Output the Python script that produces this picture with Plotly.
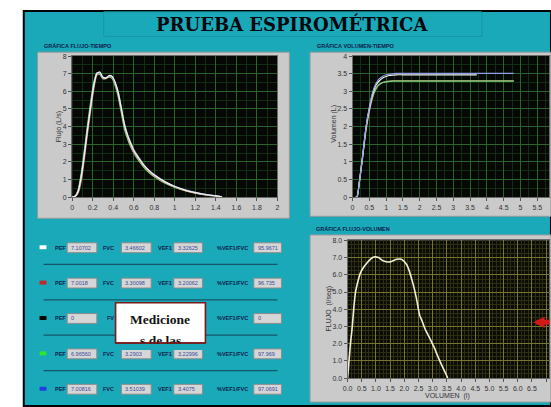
import plotly.graph_objects as go

W, H = 551, 407

# ---------------- data ----------------
# Flow-time curves (time s, flow L/s)
t_flow = [0, 0.03, 0.06, 0.09, 0.12, 0.15, 0.18, 0.21, 0.24, 0.27, 0.30, 0.33, 0.36, 0.39,
          0.42, 0.45, 0.48, 0.51, 0.54, 0.57, 0.60, 0.65, 0.70, 0.75, 0.80, 0.90, 1.00,
          1.10, 1.20, 1.30, 1.40, 1.46]
flow_white = [0, 0.05, 0.35, 1.2, 2.45, 3.85, 5.1, 6.3, 7.0, 7.1, 6.8, 6.75, 6.9, 6.85,
              6.5, 5.9, 5.0, 4.1, 3.5, 3.05, 2.65, 2.2, 1.8, 1.5, 1.25, 0.88, 0.6,
              0.4, 0.26, 0.15, 0.07, 0.02]
flow_red = [0, 0.03, 0.25, 0.95, 2.2, 3.6, 4.9, 6.1, 6.9, 7.0, 6.75, 6.72, 6.85, 6.8,
            6.4, 5.8, 4.9, 4.0, 3.4, 2.95, 2.55, 2.15, 1.75, 1.45, 1.2, 0.85, 0.57,
            0.37, 0.23, 0.13, 0.06, 0.01]
flow_green = [0, 0.06, 0.45, 1.4, 2.7, 4.1, 5.4, 6.5, 7.0, 6.95, 6.7, 6.75, 6.8, 6.72,
              6.3, 5.65, 4.75, 3.85, 3.3, 2.85, 2.5, 2.05, 1.68, 1.38, 1.15, 0.8, 0.55,
              0.36, 0.22, 0.13, 0.06, 0.02]
flow_blue = [0, 0.05, 0.38, 1.25, 2.5, 3.9, 5.2, 6.35, 7.05, 7.02, 6.8, 6.78, 6.88, 6.82,
             6.45, 5.95, 5.05, 4.15, 3.55, 3.1, 2.7, 2.25, 1.82, 1.52, 1.28, 0.9, 0.62,
             0.42, 0.27, 0.16, 0.08, 0.02]

# Volume-time curves (time s, volume L)
t_vol_white = [0.1, 0.14, 0.2, 0.3, 0.4, 0.5, 0.6, 0.7, 0.8, 0.9, 1.0, 1.1, 1.2, 1.3, 1.5, 2.0, 3.0, 3.7]
vol_white = [0, 0.02, 0.4, 1.15, 1.95, 2.5, 2.93, 3.18, 3.3, 3.38, 3.42, 3.45, 3.46, 3.47, 3.47, 3.47, 3.47, 3.47]
t_vol_red = [0.1, 0.14, 0.2, 0.3, 0.4, 0.5, 0.6, 0.7, 0.8, 0.9, 1.0, 1.1, 1.2, 1.3, 1.5, 2.0, 3.0, 4.0, 4.8]
vol_red = [0, 0.02, 0.38, 1.1, 1.88, 2.42, 2.83, 3.07, 3.19, 3.25, 3.28, 3.29, 3.3, 3.3, 3.3, 3.3, 3.3, 3.3, 3.3]
t_vol_green = [0.1, 0.14, 0.2, 0.3, 0.4, 0.5, 0.6, 0.7, 0.8, 0.9, 1.0, 1.1, 1.2, 1.3, 1.5, 2.0, 3.0, 4.0, 4.8]
vol_green = [0, 0.03, 0.42, 1.18, 1.96, 2.5, 2.88, 3.1, 3.2, 3.25, 3.27, 3.28, 3.29, 3.29, 3.29, 3.29, 3.29, 3.29, 3.29]
t_vol_blue = [0.1, 0.14, 0.2, 0.3, 0.4, 0.5, 0.6, 0.7, 0.8, 0.9, 1.0, 1.1, 1.2, 1.3, 1.5, 2.0, 3.0, 4.0, 4.8]
vol_blue = [0, 0.02, 0.4, 1.15, 1.97, 2.55, 2.98, 3.23, 3.36, 3.43, 3.47, 3.49, 3.5, 3.51, 3.51, 3.51, 3.51, 3.51, 3.51]

# Flow-volume curve (volume L, flow L/s)
vol_fv = [0.0, 0.05, 0.1, 0.16, 0.22, 0.28, 0.36, 0.45, 0.57, 0.69, 0.8, 0.92, 1.09, 1.27,
          1.5, 1.73, 1.9, 2.08, 2.18, 2.26, 2.35, 2.43, 2.54, 2.63, 2.72, 2.84, 2.95, 3.05,
          3.13, 3.25, 3.36, 3.45, 3.53]
flow_fv = [0.0, 1.0, 2.0, 2.9, 4.1, 5.0, 5.6, 6.1, 6.45, 6.7, 6.9, 7.03, 7.0, 6.8,
           6.75, 6.9, 6.9, 6.6, 6.2, 5.75, 5.2, 4.6, 3.66, 3.3, 2.9, 2.5, 2.14, 1.8,
           1.47, 1.0, 0.61, 0.3, 0.0]

# Measurement table
row_colors = ["#ffffff", "#c0282c", "#000000", "#2ee82e", "#1f3fe0"]
pef_vals = ["7.10702", "7.0018", "0", "6.96560", "7.00816"]
fvc_vals = ["3.46602", "3.30098", "", "3.2903", "3.51039"]
vef1_vals = ["3.32625", "3.20062", "", "3.22996", "3.4075"]
ratio_vals = ["95.9671", "96.735", "0", "97.969", "97.0691"]

series_colors = {"white": "#f4f4f0", "red": "#d88a7a", "green": "#78d878", "blue": "#90a0e8"}

# ---------------- helpers ----------------
def px(x):
    return x / W

def py(y):
    return 1 - y / H

TEAL = "#1aa9b8"
GRAY = "#cacaca"
NAVY = "#0e1c4e"
BOXRED = "#7a1a1a"

fig = go.Figure()

for name, ys in [("green", flow_green), ("red", flow_red), ("blue", flow_blue), ("white", flow_white)]:
    fig.add_trace(go.Scatter(x=t_flow, y=ys, mode="lines", xaxis="x", yaxis="y",
                             line=dict(color=series_colors[name], width=1.2, shape="spline", smoothing=0.6),
                             showlegend=False, hoverinfo="skip"))

for name, xs, ys in [("red", t_vol_red, vol_red), ("green", t_vol_green, vol_green),
                     ("white", t_vol_white, vol_white), ("blue", t_vol_blue, vol_blue)]:
    fig.add_trace(go.Scatter(x=xs, y=ys, mode="lines", xaxis="x2", yaxis="y2",
                             line=dict(color=series_colors[name], width=1.2, shape="spline", smoothing=0.6),
                             showlegend=False, hoverinfo="skip"))

fig.add_trace(go.Scatter(x=vol_fv, y=flow_fv, mode="lines", xaxis="x3", yaxis="y3",
                         line=dict(color="#f2efd2", width=1.6, shape="spline", smoothing=0.6),
                         showlegend=False, hoverinfo="skip"))

tickfont = dict(family="Liberation Sans", size=7, color="#333333")

def ax(domain, rng, dtick, grid, minor_grid, minor_dtick, anchor, fmt=None):
    d = dict(domain=domain, range=rng, dtick=dtick, tick0=0, showgrid=True, gridcolor=grid, gridwidth=1,
             zeroline=False, showline=True, linecolor="#6a6a6a", mirror=True, ticks="outside",
             ticklen=3, tickcolor="#555555", tickfont=tickfont, anchor=anchor, fixedrange=True,
             minor=dict(showgrid=True, gridcolor=minor_grid, dtick=minor_dtick, tick0=0))
    if fmt:
        d["tickformat"] = fmt
    return d

y_top = [py(196.5), py(53)]
fig.update_layout(
    width=W, height=H, margin=dict(l=0, r=0, t=0, b=0),
    paper_bgcolor="#ffffff",
    showlegend=False,
    xaxis=ax([px(68), px(276)], [0, 2], 0.2, "#2a642a", "#122e12", 0.1, "y"),
    yaxis=ax(y_top, [0, 8], 1, "#2a642a", "#122e12", 0.5, "x"),
    xaxis2=ax([px(352), 1], [0, 5.85], 0.5, "#2a642a", "#122e12", 0.25, "y2"),
    yaxis2=ax(y_top, [0, 4], 0.5, "#2a642a", "#122e12", 0.25, "x2"),
    xaxis3=ax([px(347), 1], [0, 7.1], 0.5, "#77762e", "#2e2e12", 0.125, "y3", ".1f"),
    yaxis3=ax([py(380.7), py(240.5)], [0, 8], 1, "#77762e", "#2e2e12", 0.25, "x3", ".1f"),
)
fig.update_layout(plot_bgcolor="#050805")

shapes = []
def rect(x0, y0, x1, y1, fill, line=None, lw=0, layer="below"):
    shapes.append(dict(type="rect", xref="paper", yref="paper", x0=px(x0), x1=px(x1), y0=py(y1), y1=py(y0),
                       fillcolor=fill, line=dict(color=line or fill, width=lw), layer=layer))

def hline(x0, x1, y, color, lw=1):
    shapes.append(dict(type="line", xref="paper", yref="paper", x0=px(x0), x1=px(x1), y0=py(y), y1=py(y),
                       line=dict(color=color, width=lw), layer="below"))

# main teal panel with black frame
rect(19, 7, 553, 409, TEAL, "#000000", 2)
# title box
rect(100, 8, 483, 33, TEAL, "#1796a4", 1)
# gray plot panels
rect(33, 49, 288, 218, GRAY, "#9a9a9a", 1)
rect(309, 49, 553, 216, GRAY, "#9a9a9a", 1)
rect(309, 235, 553, 405, GRAY, "#9a9a9a", 1)
# plot backgrounds (per plot)
rect(68, 53, 276, 196.5, "#050805")
rect(352, 53, 551, 196.5, "#050805")
rect(347, 240.5, 551, 380.7, "#0b0c06")

# table rows
row_y = [248, 284, 320, 356, 392]
for yy in [265, 301, 337, 373]:
    hline(39, 276, yy, "#14566a", 1.2)
for i, yy in enumerate(row_y):
    rect(35, yy - 2.5, 42, yy + 1.5, row_colors[i])
    boxes = [(63, 93, pef_vals[i])]
    if fvc_vals[i]:
        boxes.append((118, 148, fvc_vals[i]))
    if vef1_vals[i]:
        boxes.append((171, 200, vef1_vals[i]))
    boxes.append((252, 280, ratio_vals[i]))
    for (bx0, bx1, _) in boxes:
        rect(bx0, yy - 5, bx1, yy + 5, "#d6d6d6", "#8e8e8e", 1)

# "Mediciones" overlay box
rect(112, 304, 203, 345, "#ffffff", BOXRED, 1.6)

fig.update_layout(shapes=shapes)

ann = []
def text(x, y, s, size=6, color=NAVY, family="Liberation Sans", bold=True, xanchor="center", angle=0):
    ann.append(dict(xref="paper", yref="paper", x=px(x), y=py(y), text=(f"<b>{s}</b>" if bold else s),
                    showarrow=False, xanchor=xanchor, yanchor="middle", textangle=angle,
                    font=dict(size=size, color=color, family=family)))

text(291, 20, "PRUEBA ESPIROMÉTRICA", size=18, color="#05070d", family="DejaVu Serif")
text(37, 43, "GRÁFICA FLUJO-TIEMPO", size=5.5, xanchor="left")
text(314, 43, "GRÁFICA VOLUMEN-TIEMPO", size=5.5, xanchor="left")
text(313, 229, "GRÁFICA FLUJO-VOLUMEN", size=5.5, xanchor="left")

text(55, 125, "Flujo (L/s)", size=7, color="#333333", bold=False, angle=-90)
text(333, 122, "Volumen (L)", size=7, color="#333333", bold=False, angle=-90)
text(328, 310, "FLUJO  (l/seg)", size=7, color="#333333", bold=False, angle=-90)
text(448, 399, "VOLUMEN  (l)", size=7, color="#333333", bold=False)

for i, yy in enumerate(row_y):
    text(56, yy, "PEF", size=5.5)
    text(65, yy, pef_vals[i], size=5.5, color="#3a4a9a", bold=False, xanchor="left")
    if fvc_vals[i]:
        text(105, yy, "FVC", size=5.5)
        text(120, yy, fvc_vals[i], size=5.5, color="#3a4a9a", bold=False, xanchor="left")
    else:
        text(101, yy, "FV", size=5.5, xanchor="left")
    if vef1_vals[i]:
        text(162, yy, "VEF1", size=5.5)
        text(173, yy, vef1_vals[i], size=5.5, color="#3a4a9a", bold=False, xanchor="left")
    text(230, yy, "%VEF1/FVC", size=5.5)
    text(254, yy, ratio_vals[i], size=5.5, color="#3a4a9a", bold=False, xanchor="left")

# text inside the overlay box (second line cut by the box bottom)
ann.append(dict(xref="paper", yref="paper", x=px(157.5), y=py(321), xanchor="center", yanchor="middle",
                text="<b>Medicione</b>", showarrow=False,
                font=dict(family="Liberation Serif", size=13.5, color="#111111")))
ann.append(dict(xref="paper", yref="paper", x=px(157.5), y=py(342.5), xanchor="center", yanchor="middle",
                text="<b>s de las</b>", showarrow=False,
                font=dict(family="Liberation Serif", size=13.5, color="#111111")))
# teal mask below the box to cut the second line
ann.append(dict(xref="paper", yref="paper", x=px(157.5), y=py(345.6), xanchor="center", yanchor="top",
                text=" ", showarrow=False, width=95, height=6, borderpad=0, borderwidth=0,
                bgcolor=TEAL, font=dict(size=4)))
# box bottom border redrawn on top
ann.append(dict(xref="paper", yref="paper", axref="pixel", ayref="pixel",
                x=px(112.2), y=py(345), ax=90.6, ay=0, showarrow=True,
                arrowhead=0, arrowwidth=1.6, arrowcolor=BOXRED, standoff=0, startstandoff=0, text=""))

# red arrow at right of flow-volume plot
ann.append(dict(xref="x3", yref="y3", x=6.55, y=3.24, ax=40, ay=0, showarrow=True,
                arrowhead=2, arrowsize=0.45, arrowwidth=5, arrowcolor="#d21818", text=""))

fig.update_layout(annotations=ann)
fig.write_html("out.html")
